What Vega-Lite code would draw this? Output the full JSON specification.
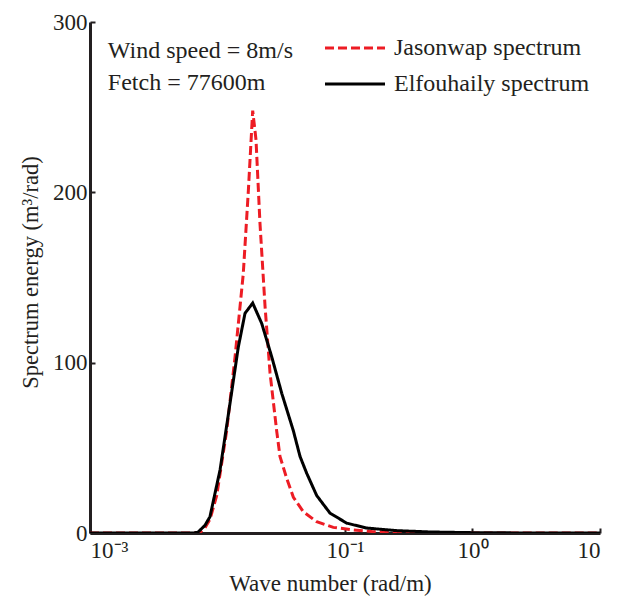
{
  "$schema": "https://vega.github.io/schema/vega-lite/v6.json",
  "width": 510,
  "height": 511,
  "autosize": {"type": "none"},
  "padding": {"left": 90, "top": 22, "right": 25, "bottom": 69},
  "background": "white",
  "config": {
    "font": "Liberation Serif",
    "view": {"stroke": null},
    "axis": {"grid": false, "domainColor": "#231f20", "domainWidth": 3, "tickColor": "#231f20", "tickWidth": 2, "labelColor": "#231f20", "titleColor": "#231f20", "labelFont": "Liberation Serif", "titleFont": "Liberation Serif", "titleFontWeight": "normal", "labelFontSize": 23, "titleFontSize": 23}
  },
  "datasets": {
    "spectra": [
      {"series": "Jasonwap spectrum", "k": 0.001, "e": 0},
      {"series": "Jasonwap spectrum", "k": 0.0072, "e": 0},
      {"series": "Jasonwap spectrum", "k": 0.00798, "e": 3},
      {"series": "Jasonwap spectrum", "k": 0.00873, "e": 8},
      {"series": "Jasonwap spectrum", "k": 0.00986, "e": 22},
      {"series": "Jasonwap spectrum", "k": 0.0118, "e": 60},
      {"series": "Jasonwap spectrum", "k": 0.01371, "e": 103},
      {"series": "Jasonwap spectrum", "k": 0.01592, "e": 152},
      {"series": "Jasonwap spectrum", "k": 0.01746, "e": 201},
      {"series": "Jasonwap spectrum", "k": 0.01888, "e": 248},
      {"series": "Jasonwap spectrum", "k": 0.02004, "e": 231},
      {"series": "Jasonwap spectrum", "k": 0.02153, "e": 182},
      {"series": "Jasonwap spectrum", "k": 0.0236, "e": 133},
      {"series": "Jasonwap spectrum", "k": 0.02582, "e": 94},
      {"series": "Jasonwap spectrum", "k": 0.02911, "e": 60},
      {"series": "Jasonwap spectrum", "k": 0.0309, "e": 45},
      {"series": "Jasonwap spectrum", "k": 0.03491, "e": 32},
      {"series": "Jasonwap spectrum", "k": 0.03936, "e": 21},
      {"series": "Jasonwap spectrum", "k": 0.0471, "e": 12.5},
      {"series": "Jasonwap spectrum", "k": 0.05998, "e": 6.6},
      {"series": "Jasonwap spectrum", "k": 0.08091, "e": 3.3},
      {"series": "Jasonwap spectrum", "k": 0.1161, "e": 1.8},
      {"series": "Jasonwap spectrum", "k": 0.166, "e": 0.8},
      {"series": "Jasonwap spectrum", "k": 0.3048, "e": 0.2},
      {"series": "Jasonwap spectrum", "k": 0.6, "e": 0},
      {"series": "Jasonwap spectrum", "k": 10, "e": 0},
      {"series": "Elfouhaily spectrum", "k": 0.001, "e": 0},
      {"series": "Elfouhaily spectrum", "k": 0.0065, "e": 0},
      {"series": "Elfouhaily spectrum", "k": 0.00703, "e": 0.5},
      {"series": "Elfouhaily spectrum", "k": 0.00798, "e": 4.5},
      {"series": "Elfouhaily spectrum", "k": 0.00873, "e": 9.6},
      {"series": "Elfouhaily spectrum", "k": 0.01047, "e": 37},
      {"series": "Elfouhaily spectrum", "k": 0.01253, "e": 76},
      {"series": "Elfouhaily spectrum", "k": 0.01455, "e": 109},
      {"series": "Elfouhaily spectrum", "k": 0.01644, "e": 129},
      {"series": "Elfouhaily spectrum", "k": 0.01888, "e": 135},
      {"series": "Elfouhaily spectrum", "k": 0.02223, "e": 123},
      {"series": "Elfouhaily spectrum", "k": 0.02661, "e": 103.5},
      {"series": "Elfouhaily spectrum", "k": 0.03191, "e": 82},
      {"series": "Elfouhaily spectrum", "k": 0.03936, "e": 60},
      {"series": "Elfouhaily spectrum", "k": 0.04436, "e": 45},
      {"series": "Elfouhaily spectrum", "k": 0.05012, "e": 35},
      {"series": "Elfouhaily spectrum", "k": 0.05998, "e": 22},
      {"series": "Elfouhaily spectrum", "k": 0.07621, "e": 11.7},
      {"series": "Elfouhaily spectrum", "k": 0.103, "e": 5.8},
      {"series": "Elfouhaily spectrum", "k": 0.1479, "e": 2.9},
      {"series": "Elfouhaily spectrum", "k": 0.2541, "e": 1.4},
      {"series": "Elfouhaily spectrum", "k": 0.4645, "e": 0.6},
      {"series": "Elfouhaily spectrum", "k": 1, "e": 0.2},
      {"series": "Elfouhaily spectrum", "k": 3, "e": 0},
      {"series": "Elfouhaily spectrum", "k": 10, "e": 0}
    ],
    "notes": [
      {"note": "Wind speed = 8m/s"}
    ]
  },
  "layer": [
    {
      "data": {"name": "spectra"},
      "mark": {"type": "line", "strokeWidth": 3, "clip": true},
      "encoding": {
        "x": {"field": "k", "type": "quantitative",
          "scale": {"type": "log", "domain": [0.001, 10], "nice": false},
          "axis": {"title": "Wave number (rad/m)", "titleX": 240, "titleAlign": "center", "values": [0.001, 0.1, 1, 10], "tickSize": -5, "labelPadding": 11, "titlePadding": 10,
            "labelExpr": "datum.value < 0.01 ? '10⁻³' : datum.value < 0.5 ? '10⁻¹' : datum.value < 5 ? '10⁰' : '10'"}},
        "y": {"field": "e", "type": "quantitative",
          "scale": {"domain": [0, 300], "nice": false},
          "axis": {"title": "Spectrum energy (m³/rad)", "titleY": 250, "titleAlign": "center", "titleFontSize": 22.5, "values": [0, 100, 200, 300], "tickSize": -5, "labelPadding": 8, "titlePadding": 10}},
        "color": {"field": "series", "type": "nominal",
          "scale": {"domain": ["Jasonwap spectrum", "Elfouhaily spectrum"], "range": ["#ed1c24", "#000000"]},
          "legend": {"title": null, "orient": "none", "legendX": 253, "legendY": 14, "symbolType": "M -3 0 H 3", "symbolSize": 400, "symbolStrokeWidth": 3, "labelFontSize": 24, "labelFont": "Liberation Serif", "labelColor": "#231f20", "labelOffset": 27, "labelLimit": 400, "rowPadding": 12}},
        "strokeDash": {"field": "series", "type": "nominal",
          "scale": {"domain": ["Jasonwap spectrum", "Elfouhaily spectrum"], "range": [[9, 4], [1, 0]]},
          "legend": {"title": null, "orient": "none", "legendX": 253, "legendY": 14, "symbolType": "M -3 0 H 3", "symbolSize": 400, "symbolStrokeWidth": 3, "labelFontSize": 24, "labelFont": "Liberation Serif", "labelColor": "#231f20", "labelOffset": 27, "labelLimit": 400, "rowPadding": 12}},
        "order": {"field": "k", "type": "quantitative"}
      }
    },
    {
      "data": {"name": "notes"},
      "mark": {"type": "text", "align": "left", "baseline": "middle", "fontSize": 24, "font": "Liberation Serif", "color": "#231f20", "lineHeight": 32,
        "text": ["Wind speed = 8m/s", "Fetch = 77600m"]},
      "encoding": {
        "x": {"datum": 0.00138, "type": "quantitative"},
        "y": {"datum": 283, "type": "quantitative"}
      }
    }
  ]
}
